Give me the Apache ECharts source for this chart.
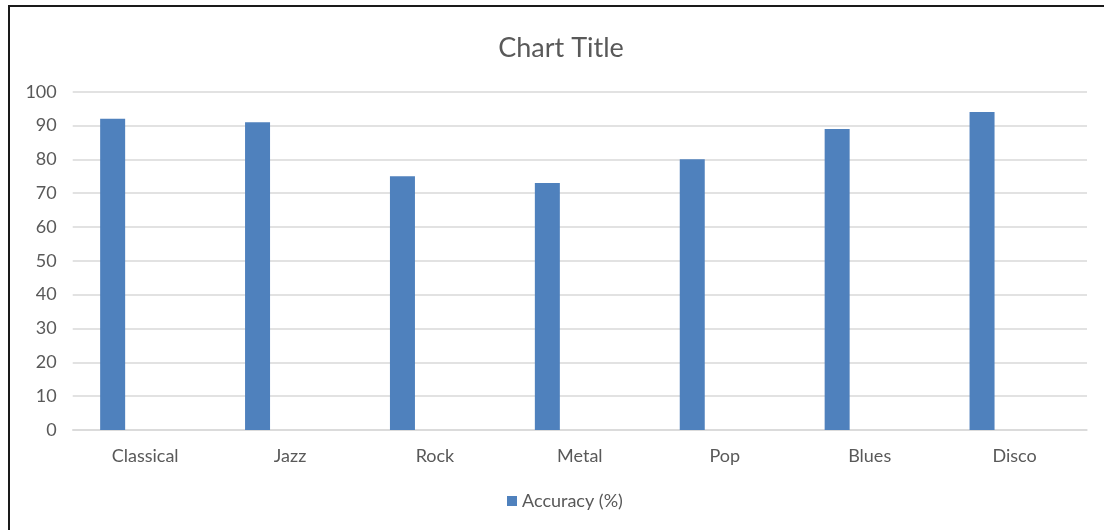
<!DOCTYPE html>
<html><head><meta charset="utf-8">
<script src="https://cdn.jsdelivr.net/npm/echarts@6/dist/echarts.min.js"></script>
<style>
html,body{margin:0;padding:0;background:#fff;overflow:hidden;}
#frame{position:absolute;left:8px;top:5px;width:1200px;height:600px;border-left:2px solid #1a1a1a;border-top:2px solid #1a1a1a;}
#c{position:absolute;left:0;top:0;width:1122px;height:530px;}
</style></head><body>
<div id="frame"></div>
<div id="c"></div>
<script>
const categories = ['Classical','Jazz','Rock','Metal','Pop','Blues','Disco'];
const accuracy = [92, 91, 75, 73, 80, 89, 94];
const yTicks = [0,10,20,30,40,50,60,70,80,90,100];
const seriesName = 'Accuracy (%)';

const chart = echarts.init(document.getElementById('c'));
const FONT = 'Lato';
chart.setOption({
  animation:false,
  title:{text:'Chart Title',left:'center',top:30,
    textStyle:{fontFamily:FONT,fontSize:27,fontWeight:'normal',color:'#595959'}},
  legend:{bottom:15,left:502,itemWidth:10,itemHeight:10,itemGap:5,
    data:[{name:seriesName,icon:'rect'}],
    textStyle:{fontFamily:FONT,fontSize:18,color:'#595959'}},
  grid:{left:72.7,right:35,top:91.7,bottom:100,containLabel:false},
  xAxis:{type:'category',data:categories,
    axisLine:{lineStyle:{color:'#d9d9d9',width:1.5}},axisTick:{show:false},
    axisLabel:{fontFamily:FONT,fontSize:18,color:'#595959',margin:17}},
  yAxis:{type:'value',min:yTicks[0],max:yTicks[yTicks.length-1],interval:10,
    axisLine:{show:false},axisTick:{show:false},
    splitLine:{lineStyle:{color:'#d9d9d9',width:1.5}},
    axisLabel:{fontFamily:FONT,fontSize:18,color:'#595959',margin:16}},
  series:[
    {name:seriesName,type:'bar',data:accuracy,barWidth:25,
     itemStyle:{color:'#4F81BD'}},
    {name:'_spacer',type:'bar',data:categories.map(()=>null),barWidth:65,barGap:0,
     itemStyle:{color:'transparent'}}
  ]
});
</script>
</body></html>
